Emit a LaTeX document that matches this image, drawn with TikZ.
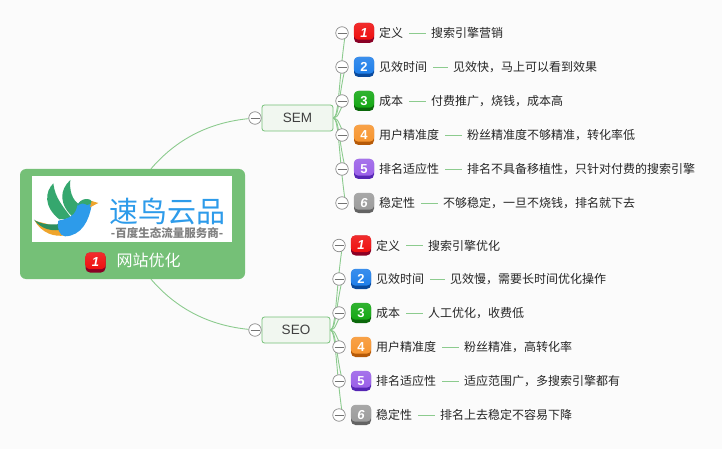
\documentclass[tikz,border=0pt]{standalone}
\usepackage{fontspec}
\setmainfont{Liberation Sans}
\newfontfamily\cjk{Noto Sans CJK SC}
\usetikzlibrary{positioning}
\definecolor{mapgreen}{HTML}{75C077}
\definecolor{linegreen}{HTML}{8CCB8E}
\definecolor{boxfill}{HTML}{F1F7F0}
\definecolor{pagebg}{HTML}{FBFBFB}
\definecolor{birdblue}{HTML}{2D9BEA}
\definecolor{birdgreen}{HTML}{35A76E}
\definecolor{birdorange}{HTML}{EFA52C}
\definecolor{redtop}{HTML}{EE1010}
\definecolor{redlow}{HTML}{8A0025}
\definecolor{bluetop}{HTML}{1F7FEA}
\definecolor{bluelow}{HTML}{0A4A9C}
\definecolor{greentop}{HTML}{14A814}
\definecolor{greenlow}{HTML}{0B680B}
\definecolor{orangetop}{HTML}{F7952F}
\definecolor{orangelow}{HTML}{B65A08}
\definecolor{purpletop}{HTML}{9A60E8}
\definecolor{purplelow}{HTML}{5526B4}
\definecolor{greytop}{HTML}{9C9C9C}
\definecolor{greylow}{HTML}{636363}
\pgfdeclarelayer{page}
\pgfdeclarelayer{lines}
\pgfsetlayers{page,lines,main}
\tikzset{
    rootbox/.style={fill=mapgreen,rounded corners=6pt,minimum width=225pt,minimum height=110pt},
    topicbox/.style={draw=mapgreen,fill=boxfill,line width=.8pt,rounded corners=2.5pt,minimum height=26pt,inner sep=0pt,font=\fontsize{13.5}{14}\selectfont,text=black!75},
    foldmark/.style={circle,draw=black!45,fill=white,line width=.7pt,minimum size=12.5pt,inner sep=0pt},
    branch/.style={draw=linegreen,line width=.9pt},
    leaftext/.style={inner sep=0pt,font=\cjk\fontsize{12}{14}\selectfont,text=black!85},
    badgebase/.style={rounded corners=4.5pt,minimum size=20pt,inner sep=0pt}
}
% numbered badge: name, position, colour, number
\newcommand{\numbadge}[4]{
    \node[badgebase,fill=#3low] (#1) at (#2) {};
    \shade[top color=#3top!88!white,bottom color=#3top,rounded corners=4.5pt] ([yshift=3.5pt]#1.south west) rectangle (#1.north east);
    \node[inner sep=0pt,text=white,font=\bfseries\fontsize{13}{14}\selectfont] at (#1) {#4};
}
% fold mark with the small bar
\newcommand{\foldnode}[2]{
    \node[foldmark] (#1) at (#2) {};
    \draw[black!55,line width=.7pt] ([xshift=-4.5pt]#1.center) -- ([xshift=4.5pt]#1.center);
}
\begin{document}
\begin{tikzpicture}[x=1pt,y=-1pt]
    \useasboundingbox (0,0) rectangle (722,449);
    \begin{pgfonlayer}{page}
        \fill[pagebg] (0,0) rectangle (722,449);
    \end{pgfonlayer}

    % root
    \node[rootbox] (root) at (132.5,224) {};
    \fill[white] (32,176) rectangle (232,242);

    % bird of the logo
    \begin{scope}[shift={(0,150)},x=.3333pt,y=-.3333pt]
        \fill[birdgreen] (160,100) .. controls (135,125) and (130,170) .. (178,208) -- (215,205) .. controls (190,170) and (165,145) .. (160,100);
        \fill[birdgreen] (211,90) .. controls (178,120) and (175,165) .. (225,207) -- (240,165) .. controls (215,150) and (208,120) .. (211,90);
        \fill[birdorange] (104,212) .. controls (125,250) and (165,262) .. (195,256) -- (190,235) -- cycle;
        \fill[birdgreen!85!black] (102,209) .. controls (125,240) and (160,245) .. (190,238) -- (180,222) .. controls (155,225) and (125,225) .. (102,209);
        \fill[birdblue] (175,212) .. controls (210,205) and (228,195) .. (232,165) .. controls (240,145) and (270,150) .. (275,165) .. controls (268,210) and (245,258) .. (195,259) .. controls (178,257) and (170,235) .. (175,212);
        \fill[birdgreen] (232,168) .. controls (240,142) and (272,142) .. (280,158) -- (262,165) .. controls (250,158) and (240,160) .. (232,168);
        \fill[birdorange] (275,153) -- (295,159) -- (270,172) -- cycle;
    \end{scope}

    % logo lettering
    \node[inner sep=0pt,text=birdblue,font=\cjk\fontsize{29}{30}\selectfont] (logoname) at (167,211) {速鸟云品};
    \node[inner sep=0pt,text=black!50,font=\cjk\bfseries\fontsize{11.5}{12}\selectfont] (logosub) at (167,233.5) {-百度生态流量服务商-};

    \numbadge{rootbadge}{95.5,262.5}{red}{\itshape 1}
    \node[inner sep=0pt,text=white,font=\cjk\fontsize{16}{18}\selectfont] (rootname) at (148.5,260) {网站优化};

    % main topics
    \node[topicbox,minimum width=71pt] (sem) at (297.5,118) {SEM};
    \node[topicbox,minimum width=68pt] (seo) at (296,330) {SEO};

    \foldnode{semfold}{255,118}
    \foldnode{seofold}{255,330}
    \begin{pgfonlayer}{lines}
        \draw[branch] ([xshift=18.5pt]root.north) .. controls (180,135) and (215,122) .. (semfold);
        \draw[branch] ([xshift=18.5pt]root.south) .. controls (180,313) and (215,326) .. (seofold);
        \draw[branch] (semfold) -- (sem);
        \draw[branch] (seofold) -- (seo);
    \end{pgfonlayer}

    % SEM branches
    \foreach \i/\y/\col/\num/\word/\gap/\text in {
        1/33/red/{\itshape 1}/定义/27.5/搜索引擎营销,
        2/67/blue/2/见效时间/25.5/见效快，马上可以看到效果,
        3/101/green/3/成本/27.5/付费推广，烧钱，成本高,
        4/135/orange/4/用户精准度/27.5/粉丝精准度不够精准，转化率低,
        5/169/purple/5/排名适应性/27.5/排名不具备移植性，只针对付费的搜索引擎,
        6/203/grey/{\itshape 6}/稳定性/27.5/不够稳定，一旦不烧钱，排名就下去}
    {
        \foldnode{semleaf\i}{342,\y}
        \begin{pgfonlayer}{lines}
            \draw[branch] (sem.east) .. controls (339,118) and (339,{(118+\y)/2}) .. ([xshift=3.5pt]semleaf\i.center);
        \end{pgfonlayer}
        \numbadge{sembadge\i}{364,\y}{\col}{\num}
        \node[leaftext,anchor=west] (semword\i) at (379,\y) {\word};
        \node[leaftext,right=\gap pt of semword\i] (semtext\i) {\text};
        \draw[linegreen,line width=.8pt,shorten <=6pt,shorten >=5pt] (semword\i) -- (semtext\i);
    }

    % SEO branches
    \foreach \i/\y/\col/\num/\word/\gap/\text in {
        1/245.5/red/{\itshape 1}/定义/27.5/搜索引擎优化,
        2/279/blue/2/见效时间/25.5/见效慢，需要长时间优化操作,
        3/313/green/3/成本/27.5/人工优化，收费低,
        4/347/orange/4/用户精准度/27.5/粉丝精准，高转化率,
        5/381/purple/5/排名适应性/27.5/适应范围广，多搜索引擎都有,
        6/415/grey/{\itshape 6}/稳定性/27.5/排名上去稳定不容易下降}
    {
        \foldnode{seoleaf\i}{339,\y}
        \begin{pgfonlayer}{lines}
            \draw[branch] (seo.east) .. controls (336,330) and (336,{(330+\y)/2}) .. ([xshift=3.5pt]seoleaf\i.center);
        \end{pgfonlayer}
        \numbadge{seobadge\i}{361,\y}{\col}{\num}
        \node[leaftext,anchor=west] (seoword\i) at (376,\y) {\word};
        \node[leaftext,right=\gap pt of seoword\i] (seotext\i) {\text};
        \draw[linegreen,line width=.8pt,shorten <=6pt,shorten >=5pt] (seoword\i) -- (seotext\i);
    }
\end{tikzpicture}
\end{document}
